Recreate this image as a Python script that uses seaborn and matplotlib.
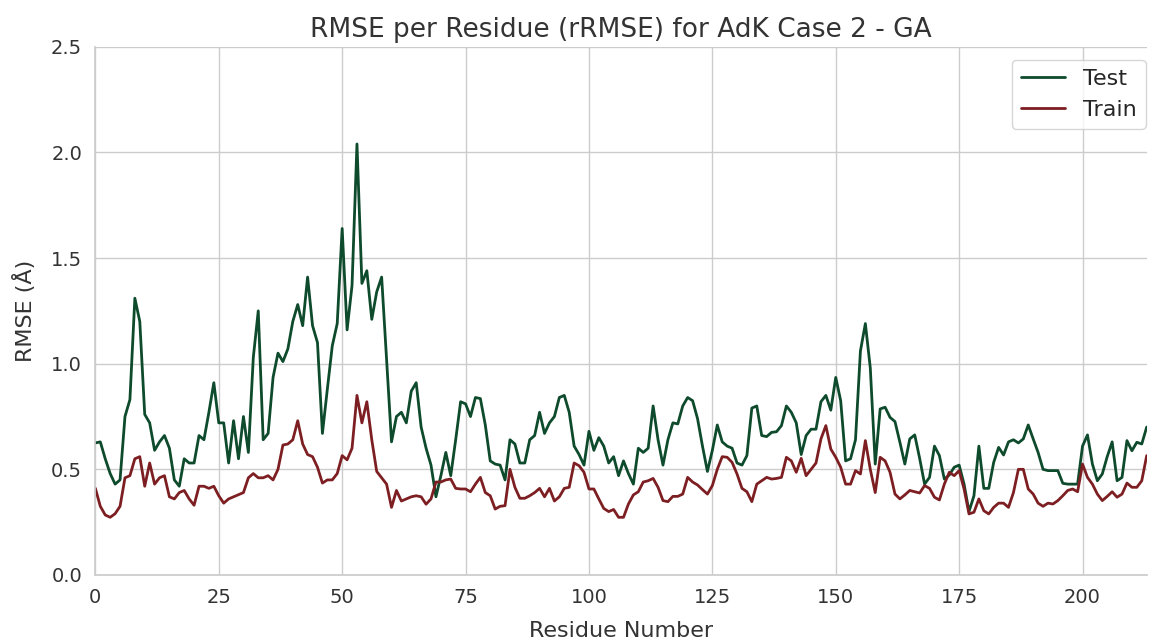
import numpy as np
import pandas as pd
import matplotlib
matplotlib.use("Agg")
import matplotlib.pyplot as plt
import seaborn as sns

title = "RMSE per Residue (rRMSE) for AdK Case 2 - GA"
xlabel = "Residue Number"
ylabel = "RMSE (Å)"
series_names = ["Test", "Train"]

test_rmse = [
    0.625, 0.63, 0.55, 0.48, 0.43, 0.45, 0.75, 0.83, 1.31, 1.20,
    0.76, 0.72, 0.59, 0.63, 0.66, 0.60, 0.45, 0.42, 0.55, 0.53,
    0.53, 0.66, 0.64, 0.77, 0.91, 0.72, 0.72, 0.53, 0.73, 0.55,
    0.75, 0.58, 1.03, 1.25, 0.64, 0.67, 0.935, 1.05, 1.01, 1.07,
    1.20, 1.28, 1.18, 1.41, 1.18, 1.10, 0.67, 0.88, 1.085, 1.19,
    1.64, 1.16, 1.37, 2.04, 1.38, 1.44, 1.21, 1.34, 1.41, 1.02,
    0.63, 0.75, 0.77, 0.72, 0.87, 0.91, 0.70, 0.60, 0.52, 0.37,
    0.47, 0.58, 0.47, 0.64, 0.82, 0.81, 0.75, 0.84, 0.835, 0.71,
    0.54, 0.525, 0.52, 0.45, 0.64, 0.62, 0.53, 0.53, 0.64, 0.66,
    0.77, 0.67, 0.72, 0.75, 0.84, 0.85, 0.77, 0.61, 0.57, 0.52,
    0.68, 0.59, 0.65, 0.61, 0.53, 0.56, 0.47, 0.54, 0.48, 0.43,
    0.60, 0.58, 0.60, 0.80, 0.64, 0.52, 0.64, 0.72, 0.715, 0.80,
    0.84, 0.825, 0.74, 0.61, 0.49, 0.59, 0.71, 0.63, 0.61, 0.60,
    0.53, 0.52, 0.565, 0.79, 0.80, 0.66, 0.655, 0.675, 0.678, 0.707,
    0.80, 0.77, 0.72, 0.57, 0.66, 0.69, 0.69, 0.82, 0.85, 0.78,
    0.935, 0.825, 0.54, 0.55, 0.64, 1.06, 1.19, 0.98, 0.525, 0.786,
    0.794, 0.746, 0.726, 0.628, 0.525, 0.644, 0.663, 0.552, 0.43, 0.462,
    0.61, 0.565, 0.454, 0.473, 0.51, 0.52, 0.43, 0.30, 0.375, 0.61,
    0.41, 0.41, 0.533, 0.604, 0.568, 0.63, 0.64, 0.625, 0.644, 0.71,
    0.644, 0.58, 0.50, 0.494, 0.494, 0.494, 0.434, 0.43, 0.43, 0.43,
    0.61, 0.663, 0.525, 0.446, 0.478, 0.56, 0.63, 0.446, 0.462, 0.636,
    0.588, 0.628, 0.62, 0.70,
]

train_rmse = [
    0.41, 0.325, 0.284, 0.273, 0.29, 0.325, 0.46, 0.47, 0.55, 0.56,
    0.42, 0.53, 0.43, 0.46, 0.47, 0.37, 0.36, 0.39, 0.40, 0.36,
    0.33, 0.42, 0.42, 0.41, 0.42, 0.375, 0.34, 0.36, 0.37, 0.38,
    0.39, 0.46, 0.48, 0.46, 0.46, 0.47, 0.45, 0.50, 0.615, 0.62,
    0.64, 0.73, 0.62, 0.57, 0.56, 0.51, 0.435, 0.45, 0.45, 0.48,
    0.565, 0.545, 0.60, 0.85, 0.72, 0.82, 0.64, 0.49, 0.46, 0.43,
    0.32, 0.40, 0.35, 0.36, 0.37, 0.375, 0.37, 0.335, 0.36, 0.44,
    0.44, 0.45, 0.454, 0.41, 0.407, 0.407, 0.394, 0.43, 0.462, 0.39,
    0.375, 0.312, 0.325, 0.328, 0.50, 0.415, 0.363, 0.363, 0.375, 0.39,
    0.41, 0.37, 0.41, 0.35, 0.37, 0.41, 0.415, 0.53, 0.517, 0.486,
    0.407, 0.407, 0.36, 0.315, 0.30, 0.31, 0.273, 0.273, 0.336, 0.379,
    0.394, 0.44, 0.446, 0.457, 0.415, 0.352, 0.347, 0.372, 0.372, 0.383,
    0.462, 0.44, 0.426, 0.404, 0.383, 0.423, 0.50, 0.56, 0.557, 0.533,
    0.478, 0.41, 0.394, 0.347, 0.43, 0.446, 0.462, 0.454, 0.457, 0.462,
    0.557, 0.54, 0.486, 0.552, 0.47, 0.50, 0.53, 0.644, 0.707, 0.596,
    0.557, 0.51, 0.43, 0.43, 0.494, 0.478, 0.636, 0.50, 0.39, 0.557,
    0.54, 0.486, 0.383, 0.36, 0.379, 0.40, 0.394, 0.388, 0.423, 0.41,
    0.368, 0.355, 0.43, 0.486, 0.47, 0.494, 0.407, 0.289, 0.297, 0.36,
    0.304, 0.289, 0.32, 0.34, 0.34, 0.32, 0.39, 0.50, 0.50, 0.407,
    0.383, 0.34, 0.325, 0.34, 0.336, 0.352, 0.375, 0.40, 0.407, 0.394,
    0.525, 0.462, 0.43, 0.383, 0.352, 0.372, 0.394, 0.368, 0.383, 0.435,
    0.415, 0.415, 0.446, 0.565,
]

x_ticks = [0, 25, 50, 75, 100, 125, 150, 175, 200]
y_ticks = [0.0, 0.5, 1.0, 1.5, 2.0, 2.5]

sns.set_theme(style="whitegrid")
plt.rcParams['font.family'] = ['DejaVu Sans']

df = pd.concat([
    pd.DataFrame({"Residue": np.arange(len(test_rmse)), "RMSE": test_rmse, "Set": series_names[0]}),
    pd.DataFrame({"Residue": np.arange(len(train_rmse)), "RMSE": train_rmse, "Set": series_names[1]}),
], ignore_index=True)

fig, ax = plt.subplots(figsize=(11.49, 6.41), dpi=100)
fig.subplots_adjust(left=0.083, right=0.998, top=0.927, bottom=0.103)

palette = {"Test": "#0e4a2c", "Train": "#7d1f22"}
sns.lineplot(data=df, x="Residue", y="RMSE", hue="Set", palette=palette,
             linewidth=2.0, ax=ax)

ax.set_xlim(0, len(test_rmse) - 1)
ax.set_ylim(0, 2.5)
ax.set_xticks(x_ticks)
ax.set_yticks(y_ticks)
ax.tick_params(axis='both', labelsize=14, colors='#333333')
ax.set_title(title, fontsize=19, color='#333333', pad=7)
ax.set_xlabel(xlabel, fontsize=16, color='#333333', labelpad=10)
ax.set_ylabel(ylabel, fontsize=16, color='#333333', labelpad=11)
sns.despine(ax=ax, top=True, right=True)
ax.spines['left'].set_color('#cccccc')
ax.spines['bottom'].set_color('#cccccc')

leg = ax.legend(loc="upper right", bbox_to_anchor=(0.999, 0.975),
                borderaxespad=0, fontsize=16, title=None)

fig.savefig("out.png", dpi=100)
